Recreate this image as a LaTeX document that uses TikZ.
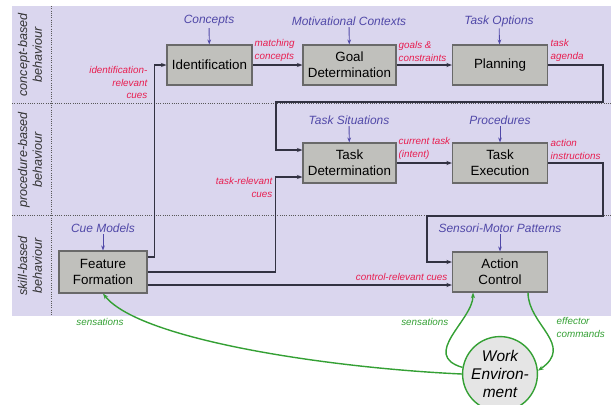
\documentclass[tikz,border=0pt]{standalone}
\usepackage{fontspec}
\setmainfont{Liberation Sans}
\usetikzlibrary{arrows.meta, calc}
\definecolor{lanebg}{RGB}{218,214,238}
\definecolor{boxfill}{RGB}{192,192,188}
\definecolor{boxline}{RGB}{105,105,105}
\definecolor{flowline}{RGB}{50,50,66}
\definecolor{cuered}{RGB}{232,30,80}
\definecolor{inblue}{RGB}{80,72,168}
\definecolor{envgreen}{RGB}{52,160,52}

\begin{document}
\begin{tikzpicture}[x=0.025cm, y=-0.025cm, >=Stealth,
  stage/.style={draw=boxline, fill=boxfill, line width=0.8pt, minimum height=1cm,
    align=center, font=\fontsize{9.5}{11.5}\selectfont},
  lane/.style={rotate=90, align=center, text=black!80,
    font=\itshape\fontsize{9}{10.5}\selectfont},
  inlbl/.style={text=inblue, font=\itshape\fontsize{8.5}{10}\selectfont, inner sep=1pt},
  cue/.style={text=cuered, font=\itshape\fontsize{7}{8.8}\selectfont, inner sep=1pt},
  senselbl/.style={text=envgreen, font=\itshape\fontsize{7}{8.8}\selectfont, inner sep=1pt},
  flow/.style={draw=flowline, line width=0.9pt, -{Stealth[length=4pt,width=3pt]}},
  feed/.style={draw=inblue, line width=0.6pt, -{Stealth[length=3.5pt,width=2.6pt]}},
  sense/.style={draw=envgreen, line width=1pt, -{Stealth[length=4pt,width=3pt]}}]
  \useasboundingbox (0,0) rectangle (611,404);

  % Behaviour levels
  \fill[lanebg] (12,6) rectangle (611,316);
  \draw[densely dotted, black!65, line width=0.6pt] (51,6) -- (51,316);
  \draw[densely dotted, black!65, line width=0.6pt] (12,103) -- (611,103);
  \draw[densely dotted, black!65, line width=0.6pt] (12,215) -- (611,215);
  \node[lane] (lvlconcept) at (30,55) {concept-based\\behaviour};
  \node[lane] (lvlproc) at (30,160) {procedure-based\\behaviour};
  \node[lane] (lvlskill) at (30,266) {skill-based\\behaviour};

  % Stages
  \node[stage, minimum width=2.125cm] (ident) at (209.5,65) {Identification};
  \node[stage, minimum width=2.325cm] (goal) at (349.5,65) {Goal\\Determination};
  \node[stage, minimum width=2.375cm] (plan) at (500,65) {Planning};
  \node[stage, minimum width=2.325cm] (taskdet) at (349.5,163) {Task\\Determination};
  \node[stage, minimum width=2.375cm] (taskexe) at (500,163) {Task\\Execution};
  \node[stage, minimum width=2.2cm, minimum height=1.05cm] (featform) at (103,272) {Feature\\Formation};
  \node[stage, minimum width=2.375cm] (actctl) at (500,272) {Action\\Control};

  \node[circle, draw=envgreen, fill=black!10, line width=1pt, minimum size=1.85cm,
    inner sep=0pt, align=center, font=\itshape\fontsize{11}{13}\selectfont]
    (env) at (500,374) {Work\\Environ-\\ment};

  % Knowledge inputs
  \node[inlbl] (concepts) at (209,21) {Concepts};
  \node[inlbl] (motives) at (349,21) {Motivational Contexts};
  \node[inlbl] (options) at (499,21) {Task Options};
  \node[inlbl] (situations) at (349,120) {Task Situations};
  \node[inlbl] (procedures) at (500,120) {Procedures};
  \node[inlbl] (cuemodels) at (103,228) {Cue Models};
  \node[inlbl] (patterns) at (500,228) {Sensori-Motor Patterns};
  \draw[feed] (concepts) -- (ident);
  \draw[feed] (motives) -- (goal);
  \draw[feed] (options) -- (plan);
  \draw[feed] (situations) -- (taskdet);
  \draw[feed] (procedures) -- (taskexe);
  \draw[feed] (cuemodels) -- (featform);
  \draw[feed] (patterns) -- (actctl);

  % Main flow
  \coordinate (agendaR) at (603,102);
  \coordinate (agendaL) at (276,102);
  \coordinate (instrR) at (603,216);
  \coordinate (instrL) at (427,216);
  \draw[flow] (ident) -- (goal);
  \draw[flow] (goal) -- (plan);
  \draw[flow] (plan.east) -| (agendaR) -- (agendaL) |- ($(taskdet.west)+(0,-13)$);
  \draw[flow] (taskdet) -- (taskexe);
  \draw[flow] (taskexe.east) -| (instrR) -- (instrL) |- ($(actctl.west)+(0,-10)$);
  \draw[flow] ($(featform.east)+(0,-15)$) -| ($(ident.west)+(-12,0)$) -- (ident.west);
  \draw[flow] (featform.east) -| ($(taskdet.west)+(-27,14)$) -- ($(taskdet.west)+(0,14)$);
  \draw[flow] ($(featform.east)+(0,13)$) -- ($(actctl.west)+(0,13)$);

  \node[cue, anchor=south west, align=left] (matchlbl) at (253,63) {matching\\concepts};
  \node[cue, anchor=south west, align=left] (goalslbl) at (397,63) {goals \&\\constraints};
  \node[cue, anchor=south west, align=left] (agendalbl) at (549,63) {task\\agenda};
  \node[cue, anchor=south west, align=left] (intentlbl) at (397,161) {current task\\(intent)};
  \node[cue, anchor=south west, align=left] (instrlbl) at (549,161) {action\\instructions};
  \node[cue, anchor=north east, align=right] (identcues) at (149,65) {identification-\\relevant\\cues};
  \node[cue, anchor=north east, align=right] (taskcues) at (274,176) {task-relevant\\cues};
  \node[cue, anchor=east] (ctrlcues) at (449,277) {control-relevant cues};

  % Feedback from the environment
  \draw[sense] (env.west) .. controls (330,368) and (140,340) .. (featform.south);
  \draw[sense] (env.170) .. controls (420,355) and (473,320) .. ($(actctl.south)+(-27,0)$);
  \draw[sense] ($(actctl.south)+(28,0)$) .. controls (528,325) and (575,345) .. (env.5);
  \node[senselbl] (senseff) at (100,322) {sensations};
  \node[senselbl, anchor=east] (senseac) at (450,322) {sensations};
  \node[senselbl, anchor=north west, align=left] (effector) at (555,316) {effector\\commands};
\end{tikzpicture}
\end{document}
